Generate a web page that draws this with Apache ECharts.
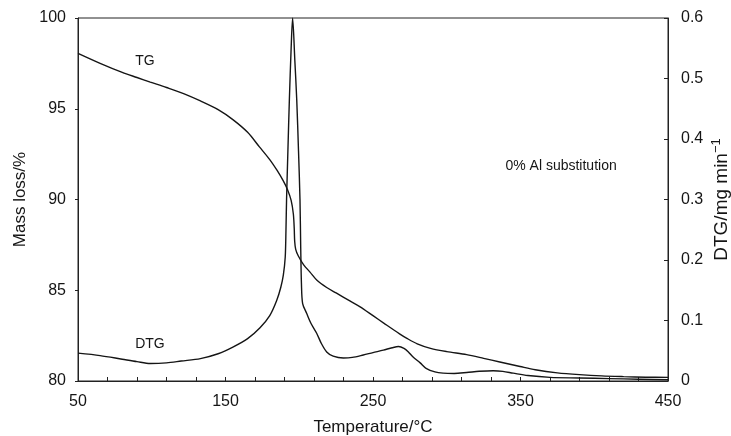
<!DOCTYPE html>
<html>
<head>
<meta charset="utf-8">
<script src="https://cdn.jsdelivr.net/npm/echarts@6/dist/echarts.min.js"></script>
<style>
  html, body { margin: 0; padding: 0; background: #fff; }
  #chart { width: 731px; height: 436px; }
</style>
</head>
<body>
<div id="chart"></div>
<script>
// TG curve (left axis, Mass loss/%)
const tgTemp = [50, 65, 80, 90, 99, 110, 122, 133, 145, 155, 165, 173, 180, 185, 189, 192, 194.5, 196, 196.6, 196.9, 197.6, 199.3, 203, 207.3, 212, 218.6, 225, 234.6, 241, 250, 258, 268, 273, 280, 289, 300, 313.5, 325, 336, 349.7, 360, 375, 390, 405, 420, 435, 450];
const tgMass = [98.05, 97.5, 97.0, 96.72, 96.47, 96.17, 95.82, 95.43, 94.95, 94.4, 93.7, 92.9, 92.2, 91.6, 91.05, 90.55, 89.95, 89.2, 88.4, 87.7, 87.25, 86.9, 86.4, 86.0, 85.55, 85.15, 84.85, 84.4, 84.1, 83.6, 83.15, 82.6, 82.35, 82.05, 81.8, 81.62, 81.45, 81.25, 81.05, 80.8, 80.62, 80.45, 80.35, 80.28, 80.24, 80.21, 80.2];

// DTG curve (right axis, DTG/mg min^-1)
const dtgTemp = [50, 65, 80, 90, 99, 110, 120, 133, 145, 155, 165, 173.4, 180, 184.7, 187.5, 189.2, 190.5, 191, 191.4, 192.3, 193.3, 194.5, 195.5, 197, 198.3, 199.5, 200.5, 201, 201.5, 202.3, 205, 208, 211.8, 215, 218.6, 223, 229.9, 236, 243.4, 250, 257, 263, 267.3, 271, 274, 277, 282, 286, 292, 297.5, 305, 313.5, 322, 331.5, 338, 345, 355, 370, 390, 410, 430, 450];
const dtgRate = [0.046, 0.042, 0.036, 0.032, 0.029, 0.030, 0.033, 0.037, 0.045, 0.056, 0.070, 0.088, 0.108, 0.133, 0.155, 0.175, 0.205, 0.25, 0.30, 0.38, 0.465, 0.55, 0.6, 0.53, 0.465, 0.38, 0.30, 0.22, 0.16, 0.128, 0.112, 0.095, 0.079, 0.062, 0.048, 0.041, 0.038, 0.039, 0.043, 0.047, 0.051, 0.055, 0.057, 0.054, 0.048, 0.040, 0.030, 0.021, 0.015, 0.013, 0.0125, 0.014, 0.016, 0.017, 0.016, 0.013, 0.009, 0.006, 0.005, 0.004, 0.003, 0.002];

// Tick label settings
const xTicks = { min: 50, max: 450, step: 100 };
const yLeftTicks = { min: 80, max: 100, step: 5 };
const yRightTicks = { min: 0, max: 0.6, step: 0.1 };

// Annotations (data coordinates)
const notes = [
  { text: 'TG', x: 95.4, y: 97.63, axis: 0 },
  { text: 'DTG', x: 98.8, y: 0.061, axis: 1 },
  { text: '0% Al substitution', x: 377.5, y: 91.85, axis: 0 }
];

const FONT = '"Liberation Sans", Arial, Helvetica, sans-serif';
const INK = '#151515';

const tgData = tgTemp.map((t, i) => [t, tgMass[i]]);
const dtgData = dtgTemp.map((t, i) => [t, dtgRate[i]]);

function notePoints(axis) {
  return notes.filter(n => n.axis === axis).map(n => ({
    coord: [n.x, n.y],
    symbol: 'circle',
    symbolSize: 1,
    itemStyle: { color: 'rgba(0,0,0,0)' },
    label: {
      show: true, position: 'inside', formatter: n.text,
      color: INK, fontSize: 14, fontFamily: FONT
    }
  }));
}

const chart = echarts.init(document.getElementById('chart'), null, { renderer: 'canvas' });
chart.setOption({
  animation: false,
  backgroundColor: '#fff',
  textStyle: { fontFamily: FONT },
  grid: {
    left: 78, right: 63, top: 18, bottom: 55,
    containLabel: false, outerBoundsMode: 'none',
    show: true, borderColor: '#222', borderWidth: 1, backgroundColor: 'transparent'
  },
  xAxis: {
    type: 'value',
    min: xTicks.min, max: xTicks.max, interval: xTicks.step,
    name: 'Temperature/°C', nameLocation: 'middle', nameGap: 38,
    nameTextStyle: { fontSize: 17, color: INK, fontFamily: FONT },
    axisLine: { lineStyle: { color: '#222', width: 1 } },
    axisTick: { show: true, inside: true, length: 4, lineStyle: { color: '#222' } },
    minorTick: { show: true, splitNumber: 5, length: 4, lineStyle: { color: '#222' } },
    axisLabel: { fontSize: 16, color: INK, margin: 13, fontFamily: FONT },
    splitLine: { show: false }
  },
  yAxis: [
    {
      type: 'value', position: 'left',
      min: yLeftTicks.min, max: yLeftTicks.max, interval: yLeftTicks.step,
      name: 'Mass loss/%', nameLocation: 'middle', nameGap: 46,
      nameTextStyle: { fontSize: 17, color: INK, fontFamily: FONT },
      axisLine: { show: true, lineStyle: { color: '#222', width: 1 } },
      axisTick: { show: true, inside: false, length: 3, lineStyle: { color: '#222' } },
      axisLabel: { fontSize: 16, color: INK, margin: 12, fontFamily: FONT },
      splitLine: { show: false }
    },
    {
      type: 'value', position: 'right',
      min: yRightTicks.min, max: yRightTicks.max, interval: yRightTicks.step,
      name: 'DTG/mg min{sup|−1}', nameLocation: 'middle', nameGap: 42,
      nameMoveOverlap: false,
      nameTextStyle: {
        fontSize: 19, color: INK, fontFamily: FONT,
        rich: { sup: { fontSize: 13, color: INK, fontFamily: FONT, verticalAlign: 'top', padding: [0, 0, 10, 0] } }
      },
      axisLine: { show: true, lineStyle: { color: '#222', width: 1 } },
      axisTick: { show: true, inside: true, length: 4, lineStyle: { color: '#222' } },
      axisLabel: {
        fontSize: 16, color: INK, margin: 13, fontFamily: FONT,
        formatter: v => (v === 0 ? '0' : v.toFixed(1))
      },
      splitLine: { show: false }
    }
  ],
  series: [
    {
      name: 'TG', type: 'line', yAxisIndex: 0, data: tgData,
      showSymbol: false, symbol: 'none', smooth: 0.3,
      lineStyle: { color: INK, width: 1.4 },
      markPoint: { silent: true, data: notePoints(0) }
    },
    {
      name: 'DTG', type: 'line', yAxisIndex: 1, data: dtgData,
      showSymbol: false, symbol: 'none', smooth: 0.3,
      lineStyle: { color: INK, width: 1.4 },
      markPoint: { silent: true, data: notePoints(1) }
    }
  ]
});
</script>
</body>
</html>
